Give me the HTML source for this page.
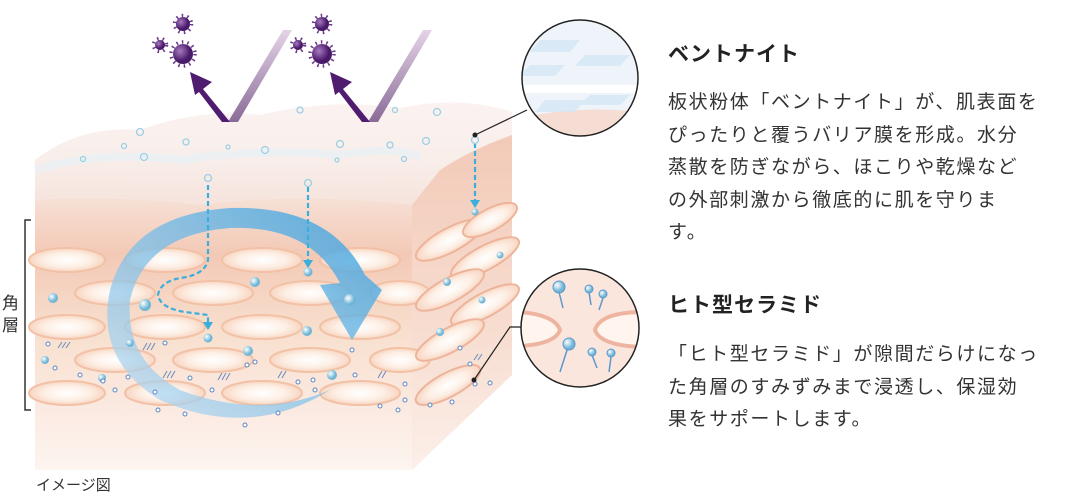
<!DOCTYPE html>
<html><head><meta charset="utf-8"><style>
html,body{margin:0;padding:0;background:#fff;}
body{width:1080px;height:500px;position:relative;overflow:hidden;font-family:"Liberation Sans","Noto Sans CJK JP",sans-serif;color:#333;}
.t{position:absolute;left:668px;font-weight:bold;font-size:21px;letter-spacing:1px;color:#222;}
.p{position:absolute;left:668px;font-size:19px;line-height:32.5px;letter-spacing:1.6px;color:#333;white-space:nowrap;}
</style></head><body>
<svg width="1080" height="500" style="position:absolute;left:0;top:0">
<defs>
<linearGradient id="front" x1="0" y1="0" x2="0" y2="1">
<stop offset="0" stop-color="#f8ece6"/><stop offset="0.28" stop-color="#f3c9b6"/><stop offset="0.55" stop-color="#f8e0cf"/><stop offset="0.8" stop-color="#fbeae2"/><stop offset="1" stop-color="#fdf5f0"/></linearGradient>
<linearGradient id="side" x1="0" y1="0" x2="0" y2="1">
<stop offset="0" stop-color="#f2c8b6"/><stop offset="0.6" stop-color="#f7ddd0"/><stop offset="1" stop-color="#fcefe9"/></linearGradient>
<linearGradient id="topl" x1="0" y1="0" x2="0" y2="1">
<stop offset="0" stop-color="#fbf3f1"/><stop offset="0.6" stop-color="#f8ede9"/><stop offset="1" stop-color="#f6e3dc"/></linearGradient>
<radialGradient id="cell"><stop offset="0" stop-color="#fff"/><stop offset="0.6" stop-color="#fdefe5"/><stop offset="1" stop-color="#f8d6c2"/></radialGradient>
<linearGradient id="arc" x1="0" y1="1" x2="1" y2="0"><stop offset="0" stop-color="#bcdcf2" stop-opacity=".7"/><stop offset="1" stop-color="#3aa0de" stop-opacity=".85"/></linearGradient>
<radialGradient id="bub" cx=".35" cy=".35"><stop offset="0" stop-color="#fff"/><stop offset="1" stop-color="#6fb6d6"/></radialGradient>
<radialGradient id="vir" cx=".35" cy=".35"><stop offset="0" stop-color="#a77ac0"/><stop offset="1" stop-color="#4a1a6a"/></radialGradient>
<linearGradient id="band" x1="0" y1="0" x2="0" y2="1"><stop offset="0" stop-color="#e4d3e6"/><stop offset="1" stop-color="#8a6b98"/></linearGradient>
</defs>
<!-- side face -->
<polygon points="412,170 512,120 512,375 412,470" fill="url(#side)"/>
<!-- front face -->
<rect x="35" y="170" width="377" height="300" fill="url(#front)"/>
<!-- top fuzzy layer -->
<path d="M35,200 L35,160 Q80,125 140,130 Q200,108 260,115 Q330,98 400,108 Q460,95 512,112 L512,135 Q470,150 440,170 L412,205 Q300,192 200,205 Q110,195 35,200Z" fill="url(#topl)"/>
<path d="M35,170 Q100,150 180,160 Q260,148 340,155 Q400,145 420,158" stroke="#e8f1f7" stroke-width="8" fill="none" opacity=".7"/>
<!-- cells front -->
<g fill="url(#cell)" stroke="#f2c1a6" stroke-width="2">
<ellipse cx="67" cy="260" rx="38" ry="12"/><ellipse cx="165" cy="260" rx="40" ry="12"/><ellipse cx="262" cy="260" rx="40" ry="12"/><ellipse cx="360" cy="260" rx="40" ry="12"/>
<ellipse cx="115" cy="293" rx="40" ry="12"/><ellipse cx="213" cy="293" rx="40" ry="12"/><ellipse cx="310" cy="293" rx="40" ry="12"/><ellipse cx="400" cy="293" rx="30" ry="12"/>
<ellipse cx="67" cy="327" rx="38" ry="12"/><ellipse cx="165" cy="327" rx="40" ry="12"/><ellipse cx="262" cy="327" rx="40" ry="12"/><ellipse cx="360" cy="327" rx="40" ry="12"/>
<ellipse cx="115" cy="360" rx="40" ry="12"/><ellipse cx="213" cy="360" rx="40" ry="12"/><ellipse cx="310" cy="360" rx="40" ry="12"/><ellipse cx="400" cy="360" rx="30" ry="12"/>
<ellipse cx="67" cy="393" rx="38" ry="12"/><ellipse cx="165" cy="393" rx="40" ry="12"/><ellipse cx="262" cy="393" rx="40" ry="12"/><ellipse cx="360" cy="393" rx="40" ry="12"/>
</g>
<!-- side cells -->
<g fill="url(#cell)" stroke="#eeb49b" stroke-width="2">
<ellipse cx="450" cy="240" rx="38" ry="12" transform="rotate(-28 450 240)"/>
<ellipse cx="485" cy="258" rx="38" ry="12" transform="rotate(-28 485 258)"/>
<ellipse cx="450" cy="290" rx="38" ry="12" transform="rotate(-28 450 290)"/>
<ellipse cx="485" cy="305" rx="38" ry="12" transform="rotate(-28 485 305)"/>
<ellipse cx="450" cy="340" rx="38" ry="12" transform="rotate(-28 450 340)"/>
<ellipse cx="490" cy="220" rx="30" ry="11" transform="rotate(-28 490 220)"/>
<ellipse cx="448" cy="385" rx="36" ry="12" transform="rotate(-28 448 385)"/>
</g>
<!-- big circular arrow -->
<path d="M330,390 Q250,440 160,400 Q95,360 110,290 Q130,215 230,208 Q330,205 365,275 L382,290 L352,340 L320,285 L340,283 Q310,225 230,228 Q145,235 130,300 Q125,360 180,390 Q260,420 330,390Z" fill="url(#arc)"/>
<!-- dashed arrows -->
<g stroke="#3aaedc" stroke-width="2.2" stroke-dasharray="5,3" fill="none">
<path d="M208,185 L208,260 Q205,275 180,278 Q160,282 158,295 Q160,308 185,312 L208,315 L208,322"/>
<path d="M308,187 L308,260"/>
<path d="M475,143 L475,200"/>
</g>
<g fill="#3aaedc"><polygon points="203,322 213,322 208,330"/><polygon points="303,260 313,260 308,268"/><polygon points="470,200 480,200 475,208"/></g>
<g fill="url(#bub)">
<circle cx="208" cy="338" r="4.5"/><circle cx="308" cy="272" r="4.5"/><circle cx="475" cy="212" r="3.5"/>
<circle cx="53" cy="298" r="5"/><circle cx="145" cy="305" r="6"/><circle cx="255" cy="282" r="5"/><circle cx="307" cy="331" r="5"/><circle cx="350" cy="300" r="6"/><circle cx="130" cy="343" r="4"/><circle cx="248" cy="351" r="5"/><circle cx="45" cy="360" r="4"/><circle cx="102" cy="378" r="4"/><circle cx="332" cy="375" r="5"/><circle cx="447" cy="282" r="4"/><circle cx="482" cy="300" r="3.5"/><circle cx="440" cy="332" r="4"/><circle cx="500" cy="255" r="3.5"/>
</g>
<g fill="none" stroke="#9bd0e4" stroke-width="1.3">
<circle cx="208" cy="178" r="3.5"/><circle cx="308" cy="183" r="3.5"/><circle cx="475" cy="140" r="3.5"/>
<circle cx="140" cy="132" r="3.5"/><circle cx="124" cy="146" r="2.5"/><circle cx="186" cy="142" r="3"/><circle cx="144" cy="157" r="3.5"/><circle cx="83" cy="159" r="2.5"/><circle cx="265" cy="150" r="3.5"/><circle cx="340" cy="144" r="3.5"/><circle cx="390" cy="145" r="3"/><circle cx="404" cy="159" r="2.5"/><circle cx="426" cy="141" r="3.5"/><circle cx="437" cy="112" r="3.5"/><circle cx="300" cy="110" r="3"/><circle cx="395" cy="110" r="2.5"/><circle cx="228" cy="147" r="2"/><circle cx="337" cy="160" r="2"/>
</g>
<!-- ceramide pins -->
<g stroke="#5b86c4" stroke-width="1" fill="#fff">
<circle cx="48" cy="344" r="2"/><circle cx="55" cy="368" r="2"/><circle cx="80" cy="375" r="2"/><circle cx="103" cy="381" r="2"/><circle cx="128" cy="377" r="2"/><circle cx="115" cy="390" r="2"/><circle cx="155" cy="392" r="2"/><circle cx="165" cy="343" r="2"/><circle cx="190" cy="378" r="2"/><circle cx="212" cy="390" r="2"/><circle cx="247" cy="365" r="2"/><circle cx="255" cy="362" r="2"/><circle cx="298" cy="382" r="2"/><circle cx="313" cy="380" r="2"/><circle cx="315" cy="390" r="2"/><circle cx="352" cy="350" r="2"/><circle cx="355" cy="375" r="2"/><circle cx="405" cy="384" r="2"/><circle cx="405" cy="400" r="2"/><circle cx="158" cy="410" r="2"/><circle cx="185" cy="414" r="2"/><circle cx="245" cy="425" r="2"/><circle cx="278" cy="413" r="2"/><circle cx="380" cy="406" r="2"/><circle cx="398" cy="410" r="2"/><circle cx="460" cy="348" r="2"/><circle cx="475" cy="384" r="2"/><circle cx="490" cy="383" r="2"/><circle cx="470" cy="364" r="2"/><circle cx="452" cy="402" r="2"/><circle cx="430" cy="405" r="2"/>
</g>
<g stroke="#6a8ac0" stroke-width="1" fill="none">
<path d="M58,348 l4,-6 m0,6 l4,-6 m0,6 l4,-6"/><path d="M143,350 l4,-7 m0,7 l4,-7 m0,7 l4,-7"/><path d="M163,378 l4,-7 m0,7 l4,-7 m0,7 l4,-7"/><path d="M218,380 l4,-7 m0,7 l4,-7 m0,7 l4,-7"/><path d="M278,378 l4,-7 m0,7 l4,-7"/><path d="M378,378 l4,-7 m0,7 l4,-7"/><path d="M474,360 l4,-6 m0,6 l4,-6"/>
</g>
<!-- purple bands and arrows -->
<g>
<polygon points="283,30 292,30 238,122 228,122" fill="url(#band)"/>
<polygon points="423,30 432,30 378,122 368,122" fill="url(#band)"/>
<path d="M230,122 L203,89 L212,82 L190,72 L195,95 L199,92 L222,122Z" fill="#4f1c70"/>
<path d="M370,122 L343,89 L352,82 L330,72 L335,95 L339,92 L362,122Z" fill="#4f1c70"/>
</g>
<g fill="none" stroke="#6b3a8a" stroke-width="3.5" stroke-dasharray="1.5,4">
<circle cx="183" cy="54" r="12"/><circle cx="183" cy="24" r="8.5"/><circle cx="160" cy="45" r="6.5"/>
<circle cx="322" cy="54" r="12"/><circle cx="322" cy="24" r="8.5"/><circle cx="298" cy="45" r="6.5"/>
</g>
<g fill="url(#vir)">
<circle cx="183" cy="54" r="10"/><circle cx="183" cy="24" r="7"/><circle cx="160" cy="45" r="5"/>
<circle cx="322" cy="54" r="10"/><circle cx="322" cy="24" r="7"/><circle cx="298" cy="45" r="5"/>
</g>
<!-- bracket -->
<path d="M31,220 L25,220 L25,410 L31,410" stroke="#333" stroke-width="1.5" fill="none"/>
<!-- leader lines -->
<g stroke="#222" stroke-width="1.2" fill="none">
<path d="M475,135 L527,110"/><path d="M474,380 L510,327 L525,327"/>
</g>
<circle cx="475" cy="135" r="2.5" fill="#222"/><circle cx="474" cy="380" r="2.5" fill="#222"/>
<!-- top zoom circle -->
<clipPath id="c1"><circle cx="580" cy="78" r="58"/></clipPath>
<g clip-path="url(#c1)">
<rect x="520" y="18" width="120" height="120" fill="#eef4fa"/>
<path d="M520,118 Q580,105 640,112 L640,140 L520,140Z" fill="#f6ddd3"/>
<rect x="520" y="85" width="120" height="8" fill="#fff"/>
<g fill="#d4e6f4" opacity=".8"><polygon points="540,40 580,40 570,52 530,52"/><polygon points="585,55 630,55 620,66 575,66"/><polygon points="530,65 565,65 555,76 520,76"/><polygon points="545,100 585,100 575,112 535,112"/><polygon points="590,95 630,95 620,105 580,105"/></g>
</g>
<circle cx="580" cy="78" r="58" fill="none" stroke="#222" stroke-width="1.5"/>
<!-- bottom zoom circle -->
<clipPath id="c2"><circle cx="580" cy="328" r="59"/></clipPath>
<g clip-path="url(#c2)">
<rect x="520" y="268" width="120" height="120" fill="#fae6dc"/>
<path d="M520,312 Q555,315 560,330 Q555,344 520,346" fill="#fff4ee" stroke="#eeb4a0" stroke-width="4"/>
<path d="M640,312 Q600,313 595,330 Q600,345 640,347" fill="#fff4ee" stroke="#eeb4a0" stroke-width="4"/>
<g stroke="#5b98cc" stroke-width="1.5"><line x1="559" y1="292" x2="563" y2="308"/><line x1="589" y1="292" x2="591" y2="305"/><line x1="603" y1="298" x2="599" y2="310"/><line x1="568" y1="347" x2="560" y2="372"/><line x1="592" y1="355" x2="597" y2="368"/><line x1="611" y1="357" x2="609" y2="372"/></g>
<g fill="url(#bub)" stroke="#5b98cc" stroke-width="1"><circle cx="559" cy="287" r="6"/><circle cx="589" cy="289" r="4"/><circle cx="603" cy="294" r="4"/><circle cx="569" cy="344" r="6"/><circle cx="592" cy="352" r="4"/><circle cx="611" cy="353" r="4"/></g>
</g>
<circle cx="580" cy="328" r="59" fill="none" stroke="#222" stroke-width="1.5"/>
</svg>
<div style="position:absolute;left:2px;top:293px;font-size:17px;line-height:22px;width:18px;color:#333">角<br>層</div>
<div style="position:absolute;left:36px;top:474px;font-size:15px;color:#333">イメージ図</div>
<div class="t" style="top:38px">ベントナイト</div>
<div class="p" style="top:87px">板状粉体「ベントナイト」が、肌表面を<br>ぴったりと覆うバリア膜を形成。水分<br>蒸散を防ぎながら、ほこりや乾燥など<br>の外部刺激から徹底的に肌を守りま<br>す。</div>
<div class="t" style="top:289px">ヒト型セラミド</div>
<div class="p" style="top:339px">「ヒト型セラミド」が隙間だらけになっ<br>た角層のすみずみまで浸透し、保湿効<br>果をサポートします。</div>
</body></html>
